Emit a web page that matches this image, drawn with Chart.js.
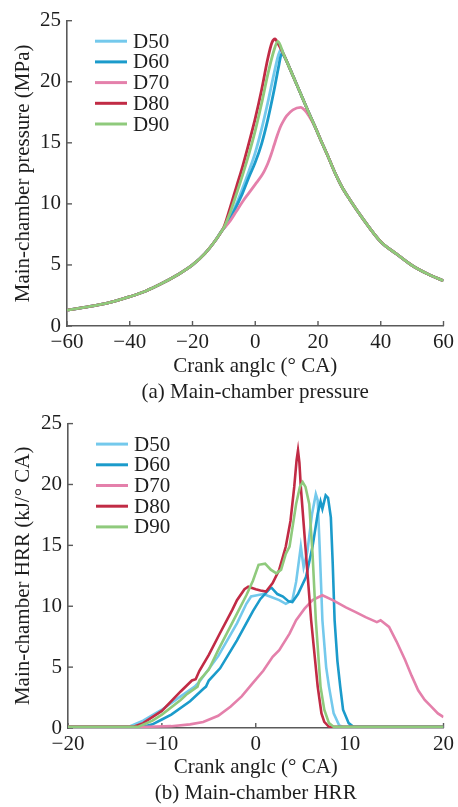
<!DOCTYPE html>
<html>
<head>
<meta charset="utf-8">
<script src="https://cdn.jsdelivr.net/npm/chart.js@4.4.1/dist/chart.umd.min.js"></script>
<style>
  html, body { margin: 0; padding: 0; background: #ffffff; }
  #wrap { position: relative; width: 458px; height: 807px; }
  canvas { position: absolute; left: 0; }
  #c1 { top: 0; }
  #c2 { top: 405px; }
</style>
</head>
<body>
<div id="wrap">
  <canvas id="c1" width="458" height="405"></canvas>
  <canvas id="c2" width="458" height="402"></canvas>
</div>
<script>
// ---- series names ----
const seriesNames = ['D50', 'D60', 'D70', 'D80', 'D90'];

// ---- (a) main-chamber pressure, MPa vs crank angle ----
// shared compression stroke
const pCompAngle = [-60, -55, -50, -45, -40, -35, -30, -25, -20, -16, -13, -10.5];
const pCompValue = [1.3, 1.5, 1.72, 2.02, 2.4, 2.85, 3.45, 4.15, 5.0, 5.95, 6.9, 7.85];
// shared expansion stroke
const pExpAngle = [9, 11, 13, 15, 17, 19, 21, 23, 25.5, 27.6, 30, 34, 40, 45, 50, 55, 60];
const pExpValue = [22.27, 21.1, 19.9, 18.7, 17.5, 16.35, 15.15, 14.0, 12.5, 11.4, 10.4, 8.9, 6.9, 5.9, 4.95, 4.25, 3.7];
// combustion part of each case
const pD50Angle = [-10, -8, -6, -4, -2, 0, 2, 4, 6, 7.4, 8.3];
const pD50Value = [8.0, 8.9, 10.0, 11.3, 12.7, 14.2, 16.1, 18.3, 20.7, 22.2, 22.7];
const pD60Angle = [-10, -8, -6, -4, -2, 0, 2, 4, 6, 7.5, 8.4, 9.4];
const pD60Value = [8.0, 8.8, 9.8, 10.9, 12.2, 13.4, 14.9, 16.9, 19.3, 21.3, 22.3, 22.0];
const pD70Angle = [-10, -8, -6, -4, -2, 0, 2, 3, 4, 5, 6, 7, 8, 9, 10, 12, 14.5, 16, 17.6];
const pD70Value = [8.0, 8.6, 9.4, 10.2, 10.9, 11.6, 12.3, 12.75, 13.3, 14.0, 14.8, 15.6, 16.3, 16.8, 17.2, 17.7, 17.9, 17.6, 17.0];
const pD80Angle = [-10, -8, -6, -4, -2, 0, 2, 4, 5.3, 6.3, 7.3];
const pD80Value = [8.1, 9.7, 11.4, 13.1, 15.0, 17.0, 19.3, 21.9, 23.2, 23.5, 23.1];
const pD90Angle = [-10, -8, -6, -4, -2, 0, 2, 4, 6, 7.2];
const pD90Value = [8.05, 9.3, 10.8, 12.4, 14.1, 16.0, 18.2, 20.6, 22.6, 23.3];

const pXTicks = [-60, -40, -20, 0, 20, 40, 60];
const pYTicks = [0, 5, 10, 15, 20, 25];

// ---- (b) main-chamber heat release rate, kJ/°CA vs crank angle ----
const hD50Angle = [-20, -13.5, -12, -10, -8, -6.5, -6, -4, -2, -1, -0.5, 0.8, 1.5, 2.5, 3.2, 3.9, 4.3, 4.8, 5.1, 5.5, 6.0, 6.4, 6.6, 6.8, 7.1, 7.5, 7.8, 8.3, 8.9, 9.3, 20];
const hD50Value = [0.1, 0.1, 0.6, 1.5, 2.6, 3.4, 3.8, 5.9, 8.6, 10.2, 10.8, 11.0, 10.8, 10.5, 10.2, 10.5, 12.0, 14.9, 13.2, 14.5, 17.6, 19.2, 18.7, 15.0, 8.85, 5.0, 3.4, 1.2, 0.2, 0.1, 0.1];
const hD60Angle = [-20, -12, -11, -10, -9, -7, -5.6, -5.3, -5, -3.8, -2, -0.3, 0.5, 1.5, 1.7, 2.3, 2.9, 3.5, 3.9, 4.5, 5.35, 6.05, 6.6, 6.9, 7.1, 7.45, 7.7, 8.0, 8.2, 8.4, 8.7, 9.0, 9.3, 9.9, 10.4, 20];
const hD60Value = [0.1, 0.1, 0.3, 0.7, 1.1, 2.2, 3.2, 3.4, 3.9, 4.9, 7.2, 9.6, 10.6, 11.45, 11.5, 11.0, 10.8, 10.4, 10.35, 11.0, 12.4, 14.9, 17.6, 18.6, 18.0, 19.1, 18.9, 17.3, 13.5, 8.85, 5.5, 3.4, 1.5, 0.4, 0.1, 0.1];
const hD70Angle = [-20, -11.5, -9, -7, -5.6, -4, -2.7, -1.5, -0.3, 0.8, 1.8, 2.5, 3.6, 4.3, 5.2, 6.05, 7.1, 8.2, 9.6, 10.7, 11.7, 12.9, 13.3, 14.2, 15.0, 15.9, 16.6, 17.3, 18.0, 18.7, 19.4, 20];
const hD70Value = [0.1, 0.1, 0.15, 0.3, 0.5, 1.0, 1.75, 2.6, 3.7, 4.7, 5.85, 6.4, 7.75, 8.85, 9.8, 10.5, 10.9, 10.5, 9.9, 9.5, 9.1, 8.7, 8.85, 8.3, 7.1, 5.6, 4.3, 3.1, 2.3, 1.75, 1.2, 0.9];
const hD80Angle = [-20, -13, -12, -10, -8, -6.8, -6.4, -6.0, -5, -3.8, -2.5, -2.0, -1.2, -0.8, 0, 0.5, 1.1, 1.8, 2.5, 3.2, 3.7, 4.1, 4.35, 4.5, 4.65, 4.8, 5.35, 5.9, 6.6, 7.0, 7.3, 7.8, 20];
const hD80Value = [0.1, 0.1, 0.4, 1.4, 3.0, 3.9, 4.0, 4.7, 6.0, 7.8, 9.7, 10.5, 11.4, 11.6, 11.4, 11.3, 11.2, 11.9, 13.0, 14.9, 17.0, 19.8, 22.0, 22.8, 21.8, 19.8, 14.3, 8.85, 3.4, 1.2, 0.5, 0.1, 0.1];
const hD90Angle = [-20, -12.5, -11, -10, -8, -7.3, -6.2, -6.0, -5, -4, -3, -2, -1, -0.3, 0.3, 1, 1.6, 2.2, 2.7, 3.2, 3.6, 4.3, 4.7, 5.0, 5.3, 5.7, 6.05, 6.4, 6.9, 7.3, 7.8, 8.3, 20];
const hD90Value = [0.1, 0.1, 0.6, 1.1, 2.3, 2.8, 3.4, 3.9, 4.8, 6.4, 7.9, 9.4, 10.9, 12.1, 13.4, 13.5, 13.0, 12.7, 13.0, 14.3, 14.9, 18.4, 19.8, 20.2, 19.8, 18.4, 14.3, 8.85, 3.4, 1.5, 0.4, 0.1, 0.1];

const hXTicks = [-20, -10, 0, 10, 20];
const hYTicks = [0, 5, 10, 15, 20, 25];

// ---- styling ----
const seriesColors = ['#74c9ec', '#1b9bcb', '#e480ab', '#c12b45', '#8fca7c'];
const drawOrder = [5, 4, 3, 2, 1];          // lower order is painted on top
const axisColor = '#5a5a5a';
const textColor = '#1e1e1e';
const FONT = '"Liberation Serif", "Times New Roman", serif';
const FS = 21;

// ---- helpers ----
function toPoints(angles, values) {
  return angles.map((a, i) => ({ x: a, y: values[i] }));
}
function pressureCurve(angles, values) {
  const last = angles[angles.length - 1];
  const a = pCompAngle.concat(angles);
  const v = pCompValue.concat(values);
  pExpAngle.forEach((e, i) => { if (e > last) { a.push(e); v.push(pExpValue[i]); } });
  return toPoints(a, v);
}
function minusLabel(v) {
  return v < 0 ? '\u2212' + Math.abs(v) : String(v);
}

// tick marks drawn inward from the axis lines
const inwardTicks = {
  id: 'inwardTicks',
  beforeDatasetsDraw(chart) {
    const { ctx } = chart;
    const x = chart.scales.x, y = chart.scales.y;
    ctx.save();
    ctx.strokeStyle = axisColor;
    ctx.lineWidth = 1.4;
    x.ticks.forEach(t => {
      const px = x.getPixelForValue(t.value);
      ctx.beginPath(); ctx.moveTo(px, x.top); ctx.lineTo(px, x.top - 5); ctx.stroke();
    });
    y.ticks.forEach(t => {
      const py = y.getPixelForValue(t.value);
      ctx.beginPath(); ctx.moveTo(y.right, py); ctx.lineTo(y.right + 5, py); ctx.stroke();
    });
    ctx.restore();
  }
};

// line-sample legend in the upper left of the plot
const lineLegend = {
  id: 'lineLegend',
  afterDatasetsDraw(chart) {
    const { ctx, chartArea } = chart;
    ctx.save();
    ctx.font = FS + 'px ' + FONT;
    ctx.textBaseline = 'middle';
    ctx.textAlign = 'left';
    chart.data.datasets.forEach((ds, i) => {
      const yy = chartArea.top + 20.5 + i * 20.7;
      ctx.strokeStyle = ds.borderColor;
      ctx.lineWidth = 3;
      ctx.beginPath();
      ctx.moveTo(chartArea.left + 28, yy);
      ctx.lineTo(chartArea.left + 60, yy);
      ctx.stroke();
      ctx.fillStyle = textColor;
      ctx.fillText(ds.label, chartArea.left + 66, yy + 1);
    });
    ctx.restore();
  }
};

function makeChart(canvasId, datasets, cfg) {
  return new Chart(document.getElementById(canvasId), {
    type: 'line',
    data: { datasets },
    options: {
      responsive: false,
      animation: false,
      devicePixelRatio: 1,
      layout: { padding: { top: cfg.padTop, right: 12, left: 0, bottom: 0 } },
      plugins: { legend: { display: false }, tooltip: { enabled: false } },
      elements: { point: { radius: 0 } },
      scales: {
        x: {
          type: 'linear',
          min: cfg.xMin, max: cfg.xMax,
          afterBuildTicks: s => { s.ticks = cfg.xTicks.map(v => ({ value: v })); },
          afterFit: s => { s.height = 79; },
          grid: { display: false, drawTicks: false },
          border: { display: true, color: axisColor, width: 1.6 },
          ticks: { color: textColor, font: { family: FONT, size: FS }, padding: 4, maxRotation: 0, callback: minusLabel },
          title: {
            display: true,
            text: ['Crank anglc (\u00b0 CA)', cfg.caption],
            color: textColor,
            font: { family: FONT, size: FS, lineHeight: 1.2 },
            padding: { top: 0, bottom: cfg.capPad }
          }
        },
        y: {
          min: 0, max: 25,
          afterBuildTicks: s => { s.ticks = cfg.yTicks.map(v => ({ value: v })); },
          afterFit: s => { s.width = cfg.yWidth; },
          grid: { display: false, drawTicks: false },
          border: { display: true, color: axisColor, width: 1.6 },
          ticks: { color: textColor, font: { family: FONT, size: FS }, padding: 6, callback: minusLabel },
          title: {
            display: true,
            text: cfg.yTitle,
            color: textColor,
            font: { family: FONT, size: FS, lineHeight: 1.2 },
            padding: { top: 11, bottom: 0 }
          }
        }
      }
    },
    plugins: [inwardTicks, lineLegend]
  });
}

// ---- (a) pressure ----
const pAngles = [pD50Angle, pD60Angle, pD70Angle, pD80Angle, pD90Angle];
const pValues = [pD50Value, pD60Value, pD70Value, pD80Value, pD90Value];
makeChart('c1', seriesNames.map((name, i) => ({
  label: name,
  data: pressureCurve(pAngles[i], pValues[i]),
  borderColor: seriesColors[i],
  backgroundColor: seriesColors[i],
  borderWidth: 2.8,
  cubicInterpolationMode: 'monotone',
  order: drawOrder[i]
})), {
  padTop: 20.7, xMin: -60, xMax: 60, xTicks: pXTicks, yTicks: pYTicks,
  yWidth: 67, caption: '(a) Main-chamber pressure', capPad: 0.4,
  yTitle: 'Main-chamber pressure (MPa)'
});

// ---- (b) heat release rate ----
const hAngles = [hD50Angle, hD60Angle, hD70Angle, hD80Angle, hD90Angle];
const hValues = [hD50Value, hD60Value, hD70Value, hD80Value, hD90Value];
makeChart('c2', seriesNames.map((name, i) => ({
  label: name,
  data: toPoints(hAngles[i], hValues[i]),
  borderColor: seriesColors[i],
  backgroundColor: seriesColors[i],
  borderWidth: 2.6,
  tension: 0,
  order: drawOrder[i]
})), {
  padTop: 18, xMin: -20, xMax: 20, xTicks: hXTicks, yTicks: hYTicks,
  yWidth: 68, caption: '(b) Main-chamber HRR', capPad: 1.4,
  yTitle: 'Main-chamber HRR (kJ/\u00b0 CA)'
});
</script>
</body>
</html>
